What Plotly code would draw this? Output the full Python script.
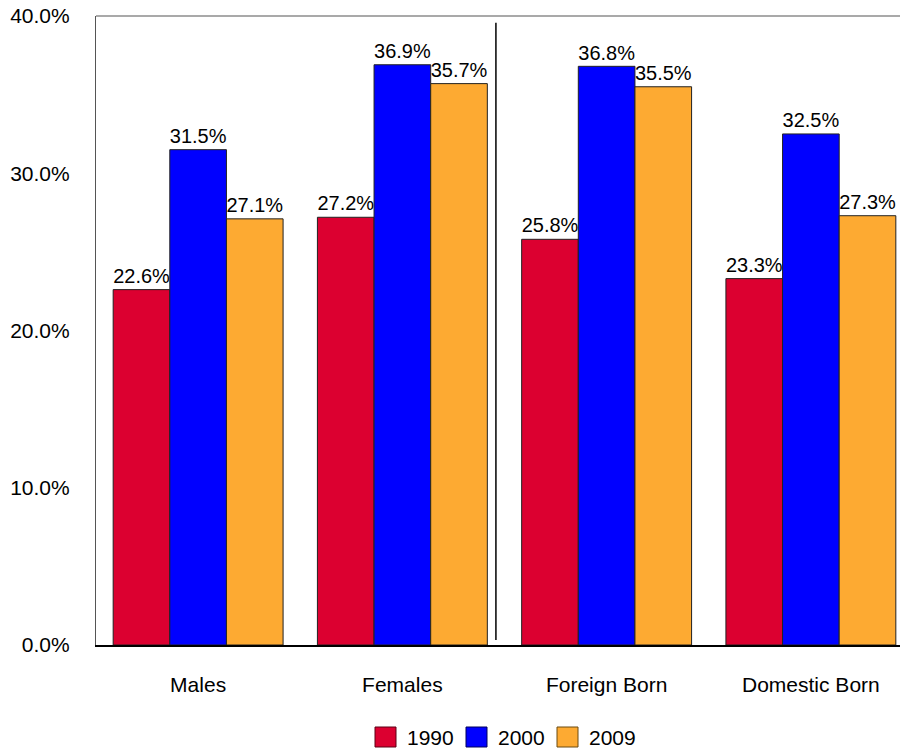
import plotly.graph_objects as go

categories = ["Males", "Females", "Foreign Born", "Domestic Born"]
years = ["1990", "2000", "2009"]
values_1990 = [22.6, 27.2, 25.8, 23.3]
values_2000 = [31.5, 36.9, 36.8, 32.5]
values_2009 = [27.1, 35.7, 35.5, 27.3]
colors = ["#DC0030", "#0000FF", "#FDAA32"]
line_colors = ["#5a0014", "#00005a", "#6a4a10"]
y_ticks = [0, 10, 20, 30, 40]
y_tick_labels = ["0.0%", "10.0%", "20.0%", "30.0%", "40.0%"]

W, H = 908, 748
ML, MR, MT, MB = 88, 3, 8, 111
OFF = 8  # page body offset in screenshot
FONT = "Liberation Sans, Arial, sans-serif"
FS = 21

fig = go.Figure()
for name, vals, col in zip(years, [values_1990, values_2000, values_2009], colors):
    fig.add_trace(go.Bar(
        x=categories, y=vals, name=name,
        marker=dict(color=col, line=dict(color="#222222", width=1)),
        text=[f"{v:.1f}%" for v in vals], textposition="outside",
        textfont=dict(family=FONT, size=FS, color="black"),
        cliponaxis=False, showlegend=False,
    ))

def px_x(p):
    return (p - OFF - ML) / (W - ML - MR)

def px_y(p):
    return (H - MB - (p - OFF)) / (H - MT - MB)

shapes = []
annotations = []
# top border line
shapes.append(dict(type="line", xref="paper", yref="paper", x0=0, x1=1, y0=1, y1=1,
                   line=dict(color="#555555", width=1.2)))
# separator between groups
shapes.append(dict(type="line", xref="x", yref="y", x0=1.458, x1=1.458, y0=0.32, y1=39.57,
                   line=dict(color="black", width=1.5)))
# manual legend
start = 375
step = 91
for i, (name, col, lc) in enumerate(zip(years, colors, line_colors)):
    x0 = start + i * step
    shapes.append(dict(type="rect", xref="paper", yref="paper",
                       x0=px_x(x0), x1=px_x(x0 + 21), y0=px_y(747), y1=px_y(727),
                       fillcolor=col, line=dict(color=lc, width=1)))
    annotations.append(dict(xref="paper", yref="paper", x=px_x(x0 + 30), y=px_y(737.5),
                            text=name, showarrow=False, xanchor="left", yanchor="middle",
                            font=dict(family=FONT, size=FS, color="black")))

fig.update_layout(
    width=W, height=H,
    margin=dict(l=ML, r=MR, t=MT, b=MB, pad=0, autoexpand=False),
    paper_bgcolor="white", plot_bgcolor="white",
    barmode="group", bargap=0.168, bargroupgap=0,
    font=dict(family=FONT, size=FS, color="black"),
    shapes=shapes, annotations=annotations,
    xaxis=dict(range=[-0.5, 3.5], showline=True, linecolor="black", linewidth=1.5,
               ticks="", showgrid=False, ticklabelstandoff=20, automargin=False,
               tickfont=dict(family=FONT, size=FS, color="black")),
    yaxis=dict(range=[0, 40], tickvals=y_ticks, ticktext=y_tick_labels,
               showline=True, linecolor="#555555", linewidth=1.2, showgrid=False,
               zeroline=False, ticks="", ticklabelstandoff=21, ticklabeloverflow="allow",
               automargin=False,
               tickfont=dict(family=FONT, size=FS, color="black")),
)

fig.write_html("out.html")
